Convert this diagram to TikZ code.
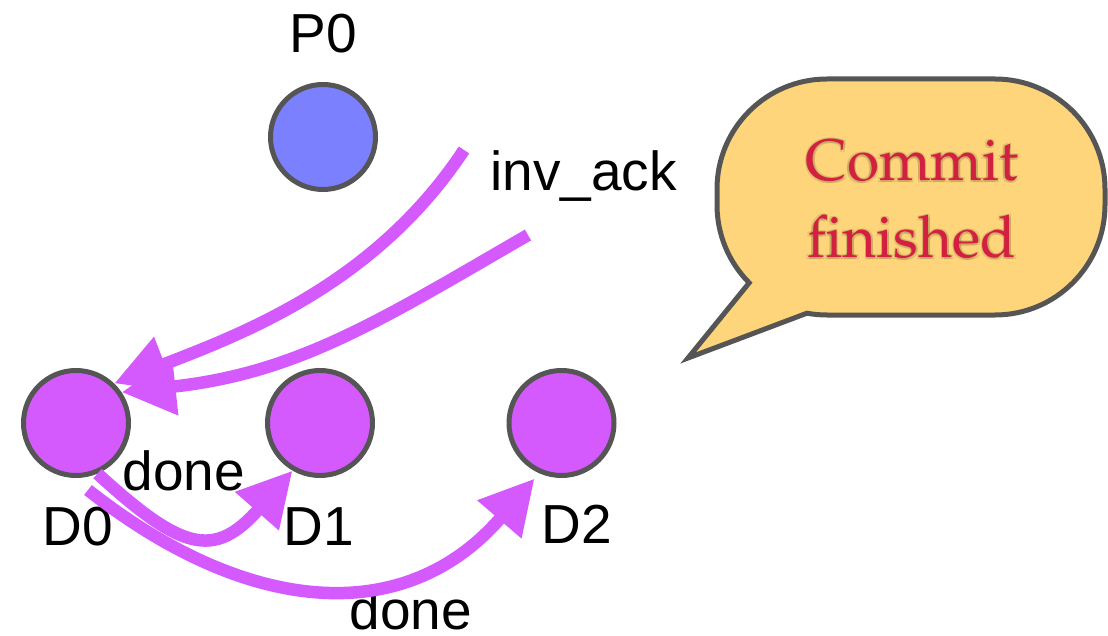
\documentclass[tikz,border=0pt]{standalone}
\usepackage{fontspec}
\setmainfont{Liberation Sans}
\usetikzlibrary{arrows.meta,calc}
\definecolor{procblue}{RGB}{123,128,255}
\definecolor{dirpurple}{RGB}{213,90,253}
\definecolor{rimgray}{RGB}{85,85,85}
\definecolor{bubblefill}{RGB}{254,213,122}
\definecolor{bubbletext}{RGB}{212,32,64}
\newcommand\calloutfont{\fontencoding{OT1}\fontfamily{ppl}\fontsize{58.5}{77}\selectfont}
\tikzset{
  agent/.style={circle, draw=rimgray, line width=5pt, minimum size=105pt, inner sep=0pt},
  tag/.style={font=\fontsize{55}{66}\selectfont, inner sep=0pt, anchor=base},
  flow/.style={draw=dirpurple, line width=12.5pt, -{Triangle[length=54pt,width=55pt]}},
  bubble/.style={fill=bubblefill, draw=rimgray, line width=5pt, line join=miter},
  msgtext/.style={font=\calloutfont, align=center, inner sep=0pt, anchor=base}
}
\begin{document}
\begin{tikzpicture}[x=1pt,y=-1pt]
\useasboundingbox (0,0) rectangle (1108,636);

% processor and directories
\node[agent, fill=procblue]   (P0) at (323,137) {};
\node[agent, fill=dirpurple]  (D0) at (76,423)  {};
\node[agent, fill=dirpurple]  (D1) at (320,423) {};
\node[agent, fill=dirpurple]  (D2) at (561.5,423) {};

% labels
\node[tag] (lP0) at (323,53)  {P0};
\node[tag] (lD0) at (77.5,545) {D0};
\node[tag] (lD1) at (319,545) {D1};
\node[tag] (lD2) at (577,543) {D2};
\node[tag] (ldoneA) at (184,490) {done};
\node[tag] (ldoneB) at (411,629) {done};
\node[tag] (linv) at (583.5,191) {inv\_ack};

% incoming acknowledgements
\coordinate (invA) at (464,150);
\coordinate (invB) at (528,235);
\draw[flow] (invA) .. controls (376,283) and (245,333) .. (D0.46);
\draw[flow] (invB) .. controls (381,320) and (298,373) .. (D0.34);

% done messages
\draw[flow] (D0.-67) .. controls (181,550) and (214,560) .. (D1.-120);
\draw[flow, shorten >=7pt] ($(D0)+(12,67)$) .. controls (245,614) and (404,630) .. (D2.-114);

% speech bubble
\filldraw[bubble] (688,358) -- (749.2,282.8)
  .. controls (728.6,262.2) and (717,234.2) .. (717,205)
  -- (717,189)
  .. controls (717,128.25) and (766.25,79) .. (827,79)
  -- (995,79)
  .. controls (1055.75,79) and (1105,128.25) .. (1105,189)
  -- (1105,205)
  .. controls (1105,265.75) and (1055.75,315) .. (995,315)
  -- (827,315)
  .. controls (820.3,315) and (813.5,314.4) .. (806.95,313.2)
  -- cycle;

% soft shadow behind the message (base anchor sits on the last line)
\foreach \dx/\dy in {1.5/1.5,-1.5/1.5,1.5/-1.5,-1.5/-1.5}
  \node[msgtext, text=black, opacity=0.1] at (912+\dx,258+\dy) {Commit\\finished};
\node[msgtext, text=bubbletext] (msg) at (912,258) {Commit\\finished};
\end{tikzpicture}
\end{document}
